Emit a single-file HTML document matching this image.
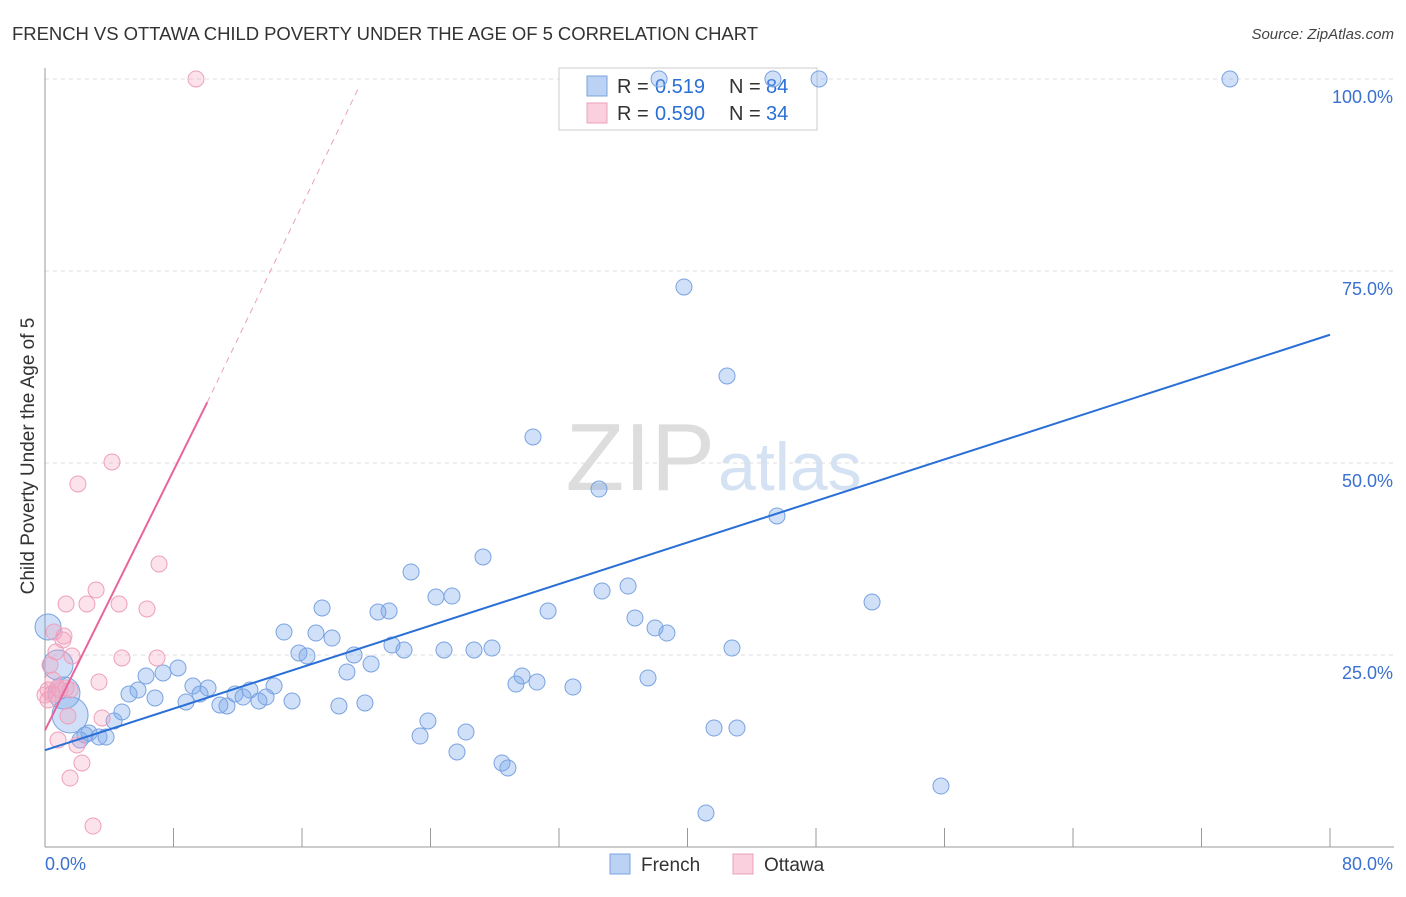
<!DOCTYPE html>
<html><head><meta charset="utf-8"><style>
body{margin:0;background:#fff;font-family:"Liberation Sans",sans-serif}
svg text{font-family:"Liberation Sans",sans-serif}
</style></head><body>
<svg id="c" width="1406" height="892"></svg>
<script>
const bluePx=[[659,79],[773,79],[819,79],[1230,79],[684,287],[727,376],[533,437],[599,489],[777,516],[483,557],[411,572],[628,586],[602,591],[436,597],[452,596],[872,602],[322,608],[378,612],[389,611],[548,611],[635,618],[655,628],[667,633],[284,632],[316,633],[332,638],[392,645],[404,650],[444,650],[474,650],[492,648],[732,648],[299,653],[307,656],[354,655],[371,664],[347,672],[178,668],[163,673],[146,676],[208,688],[274,686],[250,690],[193,686],[138,690],[129,694],[155,698],[186,702],[200,694],[235,694],[243,697],[266,697],[292,701],[259,701],[220,705],[227,706],[522,676],[537,682],[516,684],[573,687],[648,678],[339,706],[365,703],[428,721],[420,736],[466,732],[457,752],[502,763],[508,768],[714,728],[737,728],[941,786],[706,813],[122,712],[114,721],[89,733],[99,737],[106,737],[80,740],[48,627],[58,665],[64,693],[70,715],[85,735]];
const pinkPx=[[196,79],[112,462],[78,484],[159,564],[96,590],[66,604],[87,604],[119,604],[147,609],[54,632],[64,636],[63,640],[72,656],[122,658],[157,658],[56,652],[50,665],[99,682],[58,688],[66,688],[48,690],[52,694],[60,690],[70,690],[53,680],[68,716],[102,718],[58,740],[77,745],[82,763],[70,778],[93,826],[45,695],[48,700]];
const frenchX=bluePx.map(p=>+((p[0]-45)/16.0625).toFixed(2));
const frenchY=bluePx.map(p=>+((847-p[1])/7.68).toFixed(2));
const ottawaX=pinkPx.map(p=>+((p[0]-45)/16.0625).toFixed(2));
const ottawaY=pinkPx.map(p=>+((847-p[1])/7.68).toFixed(2));
const bigIdx={79:13,80:15,81:16,82:18};
const yTicks=[25,50,75,100];
const xTicks=[0,8,16,24,32,40,48,56,64,72,80];
const blueTrend=[[0,12.6],[80,66.7]];
const pinkTrend=[[0,15.2],[10.1,57.9]];
const pinkDash=[[10.1,57.9],[19.6,99.2]];

const X=v=>45+v*16.0625, Y=v=>847-v*7.68;
const s=document.getElementById('c');const NS='http://www.w3.org/2000/svg';
function el(t,a,txt){const e=document.createElementNS(NS,t);for(const k in a)e.setAttribute(k,a[k]);if(txt!=null)e.textContent=txt;s.appendChild(e);return e;}
let e;
e=el('text',{x:12,y:40,'font-size':18.5,fill:'#333',textLength:746},'FRENCH VS OTTAWA CHILD POVERTY UNDER THE AGE OF 5 CORRELATION CHART');

e=el('text',{x:1394,y:39,'font-size':15,fill:'#444','text-anchor':'end','font-style':'italic'},'Source: ZipAtlas.com');

e=el('text',{x:715,y:490,'font-size':96,fill:'#ddd','text-anchor':'end','font-family':'Liberation Serif'},'ZIP');

e=el('text',{x:718,y:490,'font-size':68,fill:'#d4e2f4'},'atlas');

yTicks.forEach(v=>{
 e=el('line',{x1:45,x2:1394,y1:Y(v),y2:Y(v),stroke:'#ddd','stroke-dasharray':'4,4'});
 
 e=el('text',{x:1393,y:Y(v)+24,'font-size':18,fill:'#3a70d0','text-anchor':'end'},v.toFixed(1)+'%');
 
});
e=el('line',{x1:45,x2:45,y1:68,y2:847,stroke:'#999'});
e=el('line',{x1:45,x2:1394,y1:847,y2:847,stroke:'#999'});
xTicks.forEach(v=>{e=el('line',{x1:X(v),x2:X(v),y1:828,y2:847,stroke:'#999'});});
e=el('text',{x:45,y:870,'font-size':18,fill:'#3a70d0'},'0.0%');
e=el('text',{x:1393,y:870,'font-size':18,fill:'#3a70d0','text-anchor':'end'},'80.0%');
e=el('text',{x:34,y:456,'font-size':19,fill:'#333','text-anchor':'middle',transform:'rotate(-90 34 456)'},'Child Poverty Under the Age of 5');

e=el('rect',{x:559,y:68,width:258,height:62,fill:'#fff',stroke:'#ccc'});
[[86,'rgba(120,165,235,0.5)','#7aa3e0','0.519','84'],[113,'rgba(245,160,190,0.5)','#eea0bb','0.590','34']].forEach(r=>{
 e=el('rect',{x:587,y:r[0]-10,width:20,height:20,fill:r[1],stroke:r[2]});
 e=el('text',{x:617,y:r[0]+7,'font-size':20,fill:'#333'},'R = ');
 e=el('text',{x:655,y:r[0]+7,'font-size':20,fill:'#2a6fd6'},r[3]);
 e=el('text',{x:729,y:r[0]+7,'font-size':20,fill:'#333'},'N = ');
 e=el('text',{x:766,y:r[0]+7,'font-size':20,fill:'#2a6fd6'},r[4]);
});
frenchX.forEach((x,i)=>{e=el('circle',{cx:X(x),cy:Y(frenchY[i]),r:bigIdx[i]||8,fill:'rgba(120,165,235,0.35)',stroke:'#7aa3e0','stroke-width':1});
 });
ottawaX.forEach((x,i)=>{e=el('circle',{cx:X(x),cy:Y(ottawaY[i]),r:8,fill:'rgba(245,160,190,0.3)',stroke:'#eea0bb','stroke-width':1});
 });
e=el('line',{x1:X(blueTrend[0][0]),y1:Y(blueTrend[0][1]),x2:X(blueTrend[1][0]),y2:Y(blueTrend[1][1]),stroke:'#2a6fd6','stroke-width':2});

e=el('line',{x1:X(pinkTrend[0][0]),y1:Y(pinkTrend[0][1]),x2:X(pinkTrend[1][0]),y2:Y(pinkTrend[1][1]),stroke:'#e8649a','stroke-width':2});

e=el('line',{x1:X(pinkDash[0][0]),y1:Y(pinkDash[0][1]),x2:X(pinkDash[1][0]),y2:Y(pinkDash[1][1]),stroke:'#eba0bd','stroke-width':1,'stroke-dasharray':'6,5'});

[[610,'rgba(120,165,235,0.5)','#7aa3e0','French'],[733,'rgba(245,160,190,0.5)','#eea0bb','Ottawa']].forEach(r=>{
 e=el('rect',{x:r[0],y:854,width:20,height:20,fill:r[1],stroke:r[2]});
 e=el('text',{x:r[0]+31,y:871,'font-size':19,fill:'#333'},r[3]);
});
</script>
</body></html>
